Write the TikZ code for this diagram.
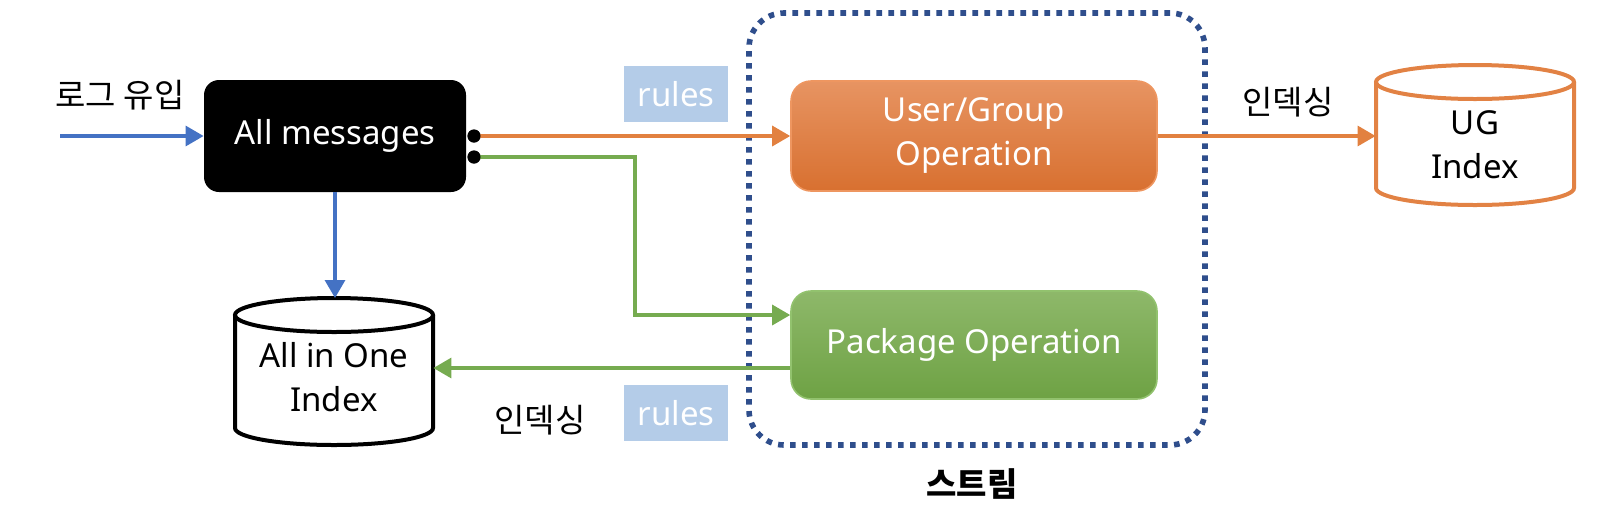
\documentclass[tikz,border=0pt]{standalone}
\usepackage{fontspec}
\setmainfont{Noto Sans}
\newfontfamily\kr{Noto Sans CJK KR}
\usetikzlibrary{arrows.meta,calc}
\definecolor{inblue}{RGB}{68,114,196}
\definecolor{oline}{RGB}{226,129,64}
\definecolor{gline}{RGB}{118,171,80}
\definecolor{otop}{RGB}{231,148,98}
\definecolor{obot}{RGB}{216,112,48}
\definecolor{oborder}{RGB}{238,150,96}
\definecolor{gtop}{RGB}{142,184,106}
\definecolor{gbot}{RGB}{110,162,68}
\definecolor{gborder}{RGB}{146,194,110}
\definecolor{rulesfill}{RGB}{180,204,232}
\definecolor{streamblue}{RGB}{47,78,140}
\definecolor{cylorange}{RGB}{226,130,68}
\begin{document}
\begin{tikzpicture}[x=0.5pt,y=0.5pt,
  font=\fontsize{16.5}{22}\selectfont,
  tip/.style={-{Triangle[length=9pt,width=10pt]}},
  blueline/.style={draw=inblue,line width=1.6pt,tip},
  orangeline/.style={draw=oline,line width=1.6pt},
  greenline/.style={draw=gline,line width=1.6pt},
  msgbox/.style={fill=black,text=white,rounded corners=7.5pt,minimum width=131pt,minimum height=56pt,inner sep=0pt},
  opbox/.style={rounded corners=10pt,minimum width=183pt,inner sep=0pt,align=center,text=white,line width=0.8pt},
  dotnode/.style={circle,fill=black,minimum size=6.5pt,inner sep=0pt},
  rulesbox/.style={fill=rulesfill,text=white,minimum width=52pt,minimum height=28pt,inner sep=0pt,font=\fontsize{16.5}{20}\selectfont},
  krtext/.style={font=\kr\fontsize{16.5}{20}\selectfont},
  cyltext/.style={align=center,minimum width=99pt,inner sep=0pt},
  streambox/.style={draw=streamblue,line width=2.8pt,dash pattern=on 2.8pt off 3.2pt,rounded corners=17.5pt,minimum width=228pt,minimum height=216pt,inner sep=0pt}
]
\useasboundingbox (0,0) rectangle (1600,-526);

% stream container
\node[streambox] (stream) at (977,-229) {};
\node[font=\kr\bfseries\fontsize{16.5}{20}\selectfont] (streamlbl) at (972,-484) {스트림};

% main box and input
\node[msgbox] (allmsg) at (335,-136) {All messages};
\node[krtext] (inlbl) at (120,-95) {로그 유입};
\coordinate (instart) at (60,-136);
\draw[blueline] (instart) -- (allmsg.west);

% operators
\node[opbox,minimum height=55pt,top color=otop,bottom color=obot,draw=oborder] (ugop) at (974,-136) {User/Group\\Operation};
\node[opbox,minimum height=54pt,top color=gtop,bottom color=gbot,draw=gborder] (pkgop) at (974,-345) {Package Operation};

% rules labels
\node[rulesbox] (rules1) at (676,-94) {rules};
\node[rulesbox] (rules2) at (676,-413) {rules};

% dots
\node[dotnode] (d1) at (474,-136) {};
\node[dotnode] (d2) at (474,-157) {};

% All in One cylinder
\node[cyltext] (aio) at (334,-377) {All in One\\Index};
\draw[line width=2pt] ($(aio.center)+(0,62)$) ellipse [x radius=99,y radius=17];
\draw[line width=2pt] ($(aio.center)+(-99,62)$) -- ($(aio.center)+(-99,-51)$)
  arc[start angle=180,end angle=360,x radius=99,y radius=17] -- ($(aio.center)+(99,62)$);
\coordinate (aiotop) at ($(aio.center)+(0,79)$);

% UG cylinder
\node[cyltext] (ug) at (1475,-145) {UG\\Index};
\draw[cylorange,line width=2pt] ($(ug.center)+(0,63)$) ellipse [x radius=99,y radius=17];
\draw[cylorange,line width=2pt] ($(ug.center)+(-99,63)$) -- ($(ug.center)+(-99,-43)$)
  arc[start angle=180,end angle=360,x radius=99,y radius=17] -- ($(ug.center)+(99,63)$);

% connectors
\draw[blueline] (allmsg.south) -- (allmsg.south |- aiotop);
\draw[orangeline,tip] (d1.center) -- (d1.center -| ugop.west);
\coordinate (pkgin) at ([yshift=15pt]pkgop.west);
\draw[greenline,tip] (d2.center) -- ++(161,0) |- (pkgin);
\coordinate (pkgout) at ([yshift=-11.5pt]pkgop.west);
\draw[greenline,tip] (pkgout) -- (pkgout -| aio.east);
\draw[orangeline,tip] (ugop.east) -- (ugop.east -| ug.west);
\node[dotnode] at (d1) {};
\node[dotnode] at (d2) {};

% indexing labels
\node[krtext] (idx1) at (1288,-102) {인덱싱};
\node[krtext] (idx2) at (540,-420) {인덱싱};
\end{tikzpicture}
\end{document}
